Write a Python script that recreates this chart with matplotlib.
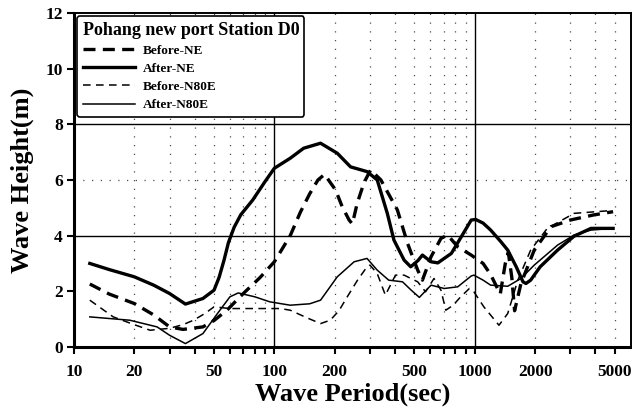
"""Wave height vs. wave period at Pohang new port, Station D0 (before/after, NE and N80E)."""

import matplotlib
matplotlib.use("Agg")
import matplotlib.pyplot as plt
from matplotlib.ticker import FixedLocator, FuncFormatter

plt.rcParams["font.family"] = ["Liberation Serif", "DejaVu Serif"]
plt.rcParams["font.weight"] = "bold"

# Values (period in s, height in m).
BEFORE_NE_X = [12, 15, 20, 25, 30, 35, 44, 50, 58, 70, 85, 100, 110, 120, 135, 150,
               165, 178, 202, 218, 236, 245, 259, 280, 302, 340, 411, 462, 519, 548,
               605, 678, 732, 822, 960, 1100, 1200, 1340, 1420, 1470, 1530, 1580,
               1700, 1980, 2400, 3000, 3900, 4900]
BEFORE_NE_Y = [2.26, 1.9, 1.56, 1.15, 0.72, 0.63, 0.72, 0.95, 1.32, 1.92, 2.5, 3.06,
               3.55, 4.0, 4.85, 5.5, 6.0, 6.2, 5.64, 5.04, 4.56, 4.42, 5.16, 5.9,
               6.36, 6.0, 4.92, 3.72, 2.76, 2.4, 3.24, 3.9, 4.02, 3.6, 3.3, 3.0,
               2.6, 1.9, 3.0, 3.4, 2.5, 1.3, 2.28, 3.48, 4.32, 4.56, 4.74, 4.86]

AFTER_NE_X = [12, 15, 20, 25, 30, 36, 44, 50, 53, 56, 59, 63, 68, 78, 90, 100, 120,
              140, 170, 206, 240, 290, 326, 366, 395, 444, 479, 520, 548, 605, 654,
              764, 880, 960, 1010, 1100, 1200, 1350, 1460, 1610, 1740, 1800, 1900,
              2120, 2590, 3130, 3800, 4900]
AFTER_NE_Y = [3.0, 2.78, 2.52, 2.22, 1.92, 1.54, 1.74, 2.04, 2.5, 3.1, 3.75, 4.3,
              4.75, 5.28, 5.95, 6.42, 6.78, 7.14, 7.32, 6.96, 6.47, 6.3, 6.0, 4.8,
              3.84, 3.12, 2.88, 3.1, 3.3, 3.06, 3.02, 3.36, 4.1, 4.56, 4.58, 4.45,
              4.2, 3.78, 3.48, 2.88, 2.34, 2.28, 2.4, 2.88, 3.48, 3.98, 4.26, 4.26]

BEFORE_N80E_X = [12, 15.7, 20, 24, 30, 35, 39.5, 45, 50, 60, 80, 107, 120, 145, 170,
                 190, 210, 231, 260, 290, 300, 326, 358, 402, 444, 519, 568, 626, 678,
                 717, 780, 850, 940, 990, 1110, 1320, 1460, 1640, 1900, 2300, 3130,
                 4800]
BEFORE_N80E_Y = [1.68, 1.08, 0.8, 0.6, 0.67, 0.8, 0.96, 1.2, 1.44, 1.38, 1.38, 1.38,
                 1.32, 1.05, 0.84, 0.96, 1.3, 1.8, 2.4, 2.88, 2.94, 2.64, 1.86, 2.58,
                 2.58, 2.34, 1.98, 2.46, 2.04, 1.32, 1.5, 1.8, 2.1, 1.98, 1.44, 0.78,
                 1.2, 2.4, 3.48, 4.26, 4.8, 4.9]

AFTER_N80E_X = [12, 19, 26, 30, 36, 44, 52, 60, 66, 80, 95, 120, 150, 170, 206, 250,
                290, 326, 372, 436, 480, 529, 605, 704, 822, 960, 990, 1100, 1200,
                1460, 1700, 1980, 2590, 3130, 3800, 4900]
AFTER_N80E_Y = [1.08, 0.96, 0.72, 0.42, 0.12, 0.48, 1.2, 1.8, 1.94, 1.8, 1.62, 1.5,
                1.55, 1.68, 2.52, 3.06, 3.18, 2.76, 2.4, 2.34, 2.05, 1.78, 2.22, 2.1,
                2.16, 2.55, 2.58, 2.4, 2.22, 2.18, 2.46, 2.94, 3.66, 4.02, 4.2, 4.26]

X_LABELED = [10, 20, 50, 100, 200, 500, 1000, 2000, 5000]
X_MAJOR = [10, 100, 1000]
X_MINOR = [20, 30, 40, 50, 60, 70, 80, 90, 200, 300, 400, 500, 600, 700, 800, 900,
           2000, 3000, 4000, 5000]
Y_TICKS = [0, 2, 4, 6, 8, 10, 12]

DOTTED = (0, (1, 6))


def main():
    fig = plt.figure(figsize=(6.32, 4.18), dpi=100)
    ax = fig.add_axes([0.117, 0.170, 0.881, 0.799])

    ax.plot(BEFORE_NE_X, BEFORE_NE_Y, color="black", lw=2.4, ls=(0, (3.6, 2.2)),
            label="Before-NE", zorder=4)
    ax.plot(AFTER_NE_X, AFTER_NE_Y, color="black", lw=2.4, ls="-",
            label="After-NE", zorder=4)
    ax.plot(BEFORE_N80E_X, BEFORE_N80E_Y, color="black", lw=1.1, ls=(0, (5, 3.5)),
            label="Before-N80E", zorder=4)
    ax.plot(AFTER_N80E_X, AFTER_N80E_Y, color="black", lw=1.1, ls="-",
            label="After-N80E", zorder=4)

    ax.set_xscale("log")
    ax.set_xlim(10, 6000)
    ax.set_ylim(0, 12)

    ax.xaxis.set_major_locator(FixedLocator(X_MAJOR))
    ax.xaxis.set_minor_locator(FixedLocator(X_MINOR))
    label_fmt = FuncFormatter(lambda v, _: f"{v:g}" if round(v) in X_LABELED else "")
    ax.xaxis.set_major_formatter(label_fmt)
    ax.xaxis.set_minor_formatter(label_fmt)
    ax.set_yticks(Y_TICKS)

    ax.tick_params(axis="both", which="both", direction="out", length=5, width=1.5,
                   labelsize=12.5, pad=3)
    ax.tick_params(axis="x", which="both", pad=7)

    # Grid: solid at decades and at 4 / 8 m, dotted elsewhere.
    ax.grid(which="major", axis="x", color="black", lw=1.0, ls="-")
    ax.grid(which="minor", axis="x", color="0.3", lw=0.9, ls=DOTTED)
    for level in (4, 8):
        ax.axhline(level, color="black", lw=1.0, zorder=1)
    ax.axhline(6, color="0.3", lw=0.9, ls=DOTTED, zorder=1)

    for side in ("left", "bottom"):
        ax.spines[side].set_linewidth(2.2)
    for side in ("top", "right"):
        ax.spines[side].set_linewidth(1.4)

    ax.set_xlabel("Wave Period(sec)", fontsize=19, fontweight="bold", labelpad=2)
    ax.set_ylabel("Wave Height(m)", fontsize=19, fontweight="bold", labelpad=8)

    legend = ax.legend(title="Pohang new port Station D0", loc="upper left",
                       bbox_to_anchor=(0.0, 1.0), borderaxespad=0.25,
                       fontsize=9.5, title_fontsize=13,
                       handlelength=4.0, handletextpad=0.6, labelspacing=0.45,
                       borderpad=0.4, fancybox=True, framealpha=1, edgecolor="black",
                       alignment="left")
    legend.get_frame().set_linewidth(1.2)
    legend.get_title().set_fontweight("bold")
    legend.set_zorder(6)

    fig.savefig("out.png", dpi=100, facecolor="white")
    plt.close(fig)


if __name__ == "__main__":
    main()
